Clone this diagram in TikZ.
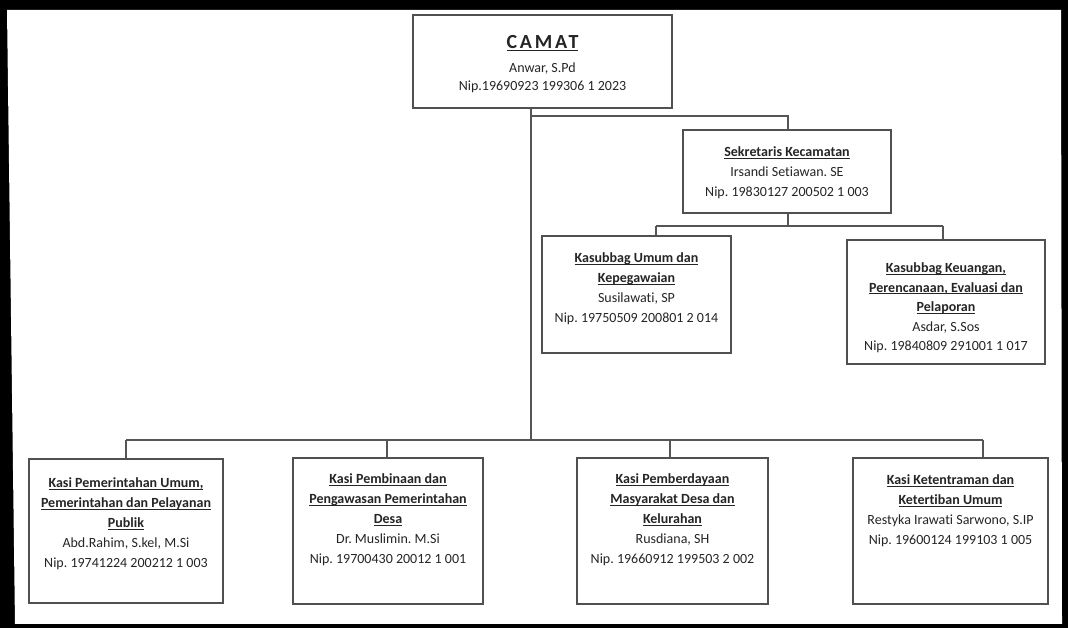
\documentclass[tikz,border=0pt]{standalone}
\usepackage{fontspec}
\setmainfont{Carlito}[Ligatures=NoCommon]
\newfontfamily\camatfont[LetterSpace=14]{Carlito}
\definecolor{boxgray}{HTML}{505050}
\definecolor{linegray}{HTML}{555555}
\definecolor{txtgray}{HTML}{252525}
\newcommand\undl[1]{\setbox0=\hbox{#1}\rlap{\rule[-2pt]{\wd0}{0.9pt}}\box0}
\tikzset{
  box/.style={draw=boxgray, line width=1.6pt, fill=white, inner sep=0pt},
  conn/.style={draw=linegray, line width=1.3pt},
  txt/.style={anchor=north, align=center, inner sep=0pt, text=txtgray, font=\frenchspacing\fontsize{14}{20}\selectfont},
}
\begin{document}
\begin{tikzpicture}[x=1pt,y=1pt]
\useasboundingbox (0,0) rectangle (1068,628);
% frame
\fill[black] (0,0) rectangle (1068,628);
\fill[white] (7,618) -- (1061,618) -- (1062,4) -- (15,4) -- cycle;
% boxes
\node[box, minimum width=259pt, minimum height=93pt] (camat) at (542.5,566.5) {};
\node[box, minimum width=208pt, minimum height=83pt] (sek) at (787,456.5) {};
\node[box, minimum width=189pt, minimum height=117pt] (kumum) at (636.5,333.5) {};
\node[box, minimum width=198pt, minimum height=124pt] (kkeu) at (946,326) {};
\node[box, minimum width=194pt, minimum height=144pt] (k1) at (126,97) {};
\node[box, minimum width=190pt, minimum height=146pt] (k2) at (388,97) {};
\node[box, minimum width=191pt, minimum height=146pt] (k3) at (672.5,97) {};
\node[box, minimum width=195pt, minimum height=146pt] (k4) at (950.5,97) {};
% junctions
\coordinate (ja) at (531,512);
\coordinate (jb) at (788,512);
\coordinate (jc) at (531,188);
\coordinate (sm) at (788,402);
\coordinate (s1) at (656,402);
\coordinate (s2) at (943,402);
\coordinate (b1) at (126,188);
\coordinate (b2) at (387,188);
\coordinate (b3) at (670,188);
\coordinate (b4) at (983,188);
% connectors
\draw[conn] (camat.south -| jc) -- (jc);
\draw[conn] (ja) -- (jb) -- (sek.north -| jb);
\draw[conn] (sek.south -| sm) -- (sm);
\draw[conn] (s1) -- (s2);
\draw[conn] (s1) -- (kumum.north -| s1);
\draw[conn] (s2) -- (kkeu.north -| s2);
\draw[conn] (b1) -- (b4);
\draw[conn] (b1) -- (k1.north -| b1);
\draw[conn] (b2) -- (k2.north -| b2);
\draw[conn] (b3) -- (k3.north -| b3);
\draw[conn] (b4) -- (k4.north -| b4);
% texts
\node[anchor=base, inner sep=0pt, text=txtgray, font=\camatfont\bfseries\fontsize{20}{20}\selectfont] (camatT) at (542.5,579.5) {\undl{CAMAT}};
\node[txt, font=\frenchspacing\fontsize{14}{18}\selectfont] (camatI) at (542.5,565.5) {Anwar, S.Pd\\Nip.19690923 199306 1 2023};
\node[txt] (sekT) at (787,481.5) {\undl{\bfseries Sekretaris Kecamatan}\\Irsandi Setiawan. SE\\Nip. 19830127 200502 1 003};
\node[txt] (kumumT) at (636.5,375.5) {\undl{\bfseries Kasubbag Umum dan}\\\undl{\bfseries Kepegawaian}\\Susilawati, SP\\Nip. 19750509 200801 2 014};
\node[txt, font=\frenchspacing\fontsize{14}{19.5}\selectfont] (kkeuT) at (946,365.5) {\undl{\bfseries Kasubbag Keuangan,}\\\undl{\bfseries Perencanaan, Evaluasi dan}\\\undl{\bfseries Pelaporan}\\Asdar, S.Sos\\Nip. 19840809 291001 1 017};
\node[txt] (k1T) at (126,150.5) {\undl{\bfseries Kasi Pemerintahan Umum,}\\\undl{\bfseries Pemerintahan dan Pelayanan}\\\undl{\bfseries Publik}\\Abd.Rahim, S.kel, M.Si\\Nip. 19741224 200212 1 003};
\node[txt] (k2T) at (388,154.5) {\undl{\bfseries Kasi Pembinaan dan}\\\undl{\bfseries Pengawasan Pemerintahan}\\\undl{\bfseries Desa}\\Dr. Muslimin. M.Si\\Nip. 19700430 20012 1 001};
\node[txt] (k3T) at (672.5,154.5) {\undl{\bfseries Kasi Pemberdayaan}\\\undl{\bfseries Masyarakat Desa dan}\\\undl{\bfseries Kelurahan}\\Rusdiana, SH\\Nip. 19660912 199503 2 002};
\node[txt] (k4T) at (950.5,153.5) {\undl{\bfseries Kasi Ketentraman dan}\\\undl{\bfseries Ketertiban Umum}\\Restyka Irawati Sarwono, S.IP\\Nip. 19600124 199103 1 005};
\end{tikzpicture}
\end{document}
